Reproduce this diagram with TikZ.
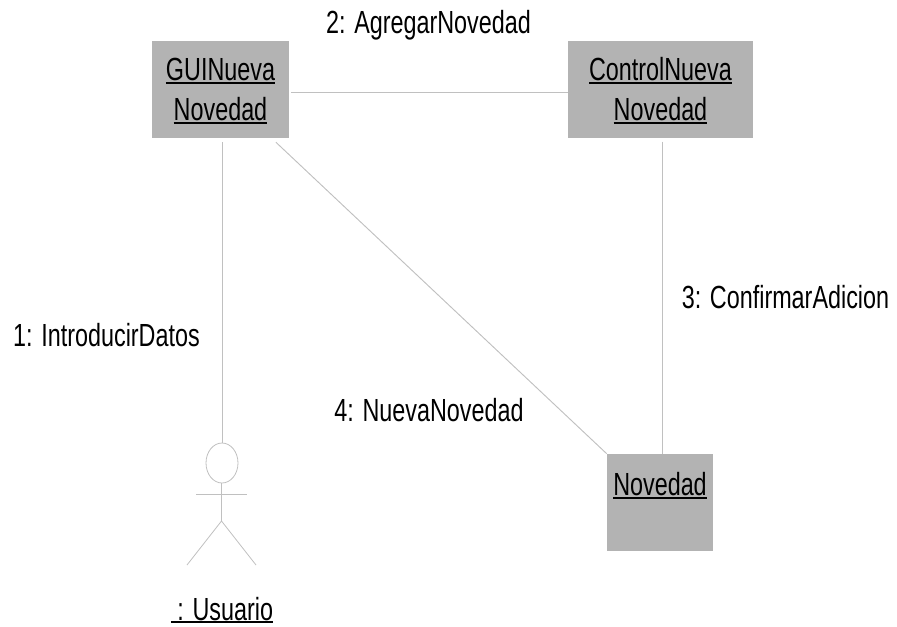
\documentclass[tikz,border=0pt]{standalone}
\usepackage{fontspec}
\usetikzlibrary{shapes.geometric}
\newfontfamily\labfont[FakeStretch=0.73]{Liberation Sans}
\newcommand{\ulx}[1]{\setbox0=\hbox{#1}\rlap{\rule[-2.6pt]{\wd0}{1.5pt}}\box0\relax}
\definecolor{boxgray}{RGB}{179,179,179}
\definecolor{linegray}{RGB}{192,192,192}
\tikzset{
  px/.style={x=0.75pt,y=-0.75pt},
  objbox/.style={fill=boxgray,draw=none,inner sep=0pt,align=center,text=black,font=\labfont\fontsize{24}{30}\selectfont},
  msg/.style={anchor=base,inner sep=0pt,text=black,font=\labfont\fontsize{24}{30}\selectfont},
  link/.style={draw=linegray,line width=0.7pt},
  actorline/.style={draw=linegray,line width=0.6pt}
}
\begin{document}
\begin{tikzpicture}[px]
\useasboundingbox (0,0) rectangle (897,626);
\node[objbox,minimum width=102.75pt,minimum height=72.75pt] (gui) at (220.5,89.5) {\rule{0pt}{19.8pt}\ulx{GUINueva}\\\ulx{Novedad}};
\node[objbox,minimum width=138.75pt,minimum height=72.75pt] (ctrl) at (660.5,89.5) {\rule{0pt}{19.8pt}\ulx{ControlNueva}\\\ulx{Novedad}};
\node[objbox,minimum width=79.5pt,minimum height=72.75pt] (nov) at (660,502.5) {\rule{0pt}{21.4pt}\ulx{Novedad}\\\phantom{\ulx{Novedad}}};
% actor
\node[ellipse,draw=linegray,line width=0.6pt,minimum width=24pt,minimum height=30pt,inner sep=0pt] (head) at (222,463) {};
\coordinate (hip) at (221.5,521);
\coordinate (armL) at (196,494);
\coordinate (armR) at (247,494);
\coordinate (legL) at (187,565);
\coordinate (legR) at (256,565);
\coordinate (neck) at (221.5,483);
\draw[actorline] (neck) -- (hip);
\draw[actorline] (armL) -- (armR);
\draw[actorline] (legL) -- (hip) -- (legR);
% connectors
\coordinate (guiE) at ([xshift=1.5pt,yshift=-1.9pt]gui.east);
\coordinate (ctrlW) at ([yshift=-1.9pt]ctrl.west);
\coordinate (guiS) at ([xshift=1.5pt,yshift=-3pt]gui.south);
\coordinate (guiSE) at ([xshift=-10pt,yshift=-3pt]gui.south east);
\coordinate (ctrlS) at ([xshift=1.5pt,yshift=-2.5pt]ctrl.south);
\coordinate (novN) at ([xshift=1.5pt]nov.north);
\draw[link] (guiE) -- (ctrlW);
\draw[link] (guiS) -- (head.north -| guiS);
\draw[link] (guiSE) -- (nov.north west);
\draw[link] (ctrlS) -- (ctrlS |- novN);
% labels
\node[msg] (m2) at (428.5,33) {2: AgregarNovedad};
\node[msg] (m1) at (106.5,346) {1: IntroducirDatos};
\node[msg] (m3) at (785.5,308) {3: ConfirmarAdicion};
\node[msg] (m4) at (429,421) {4: NuevaNovedad};
\node[msg] (actorname) at (222,620) {\ulx{\ : Usuario}};
\end{tikzpicture}
\end{document}
